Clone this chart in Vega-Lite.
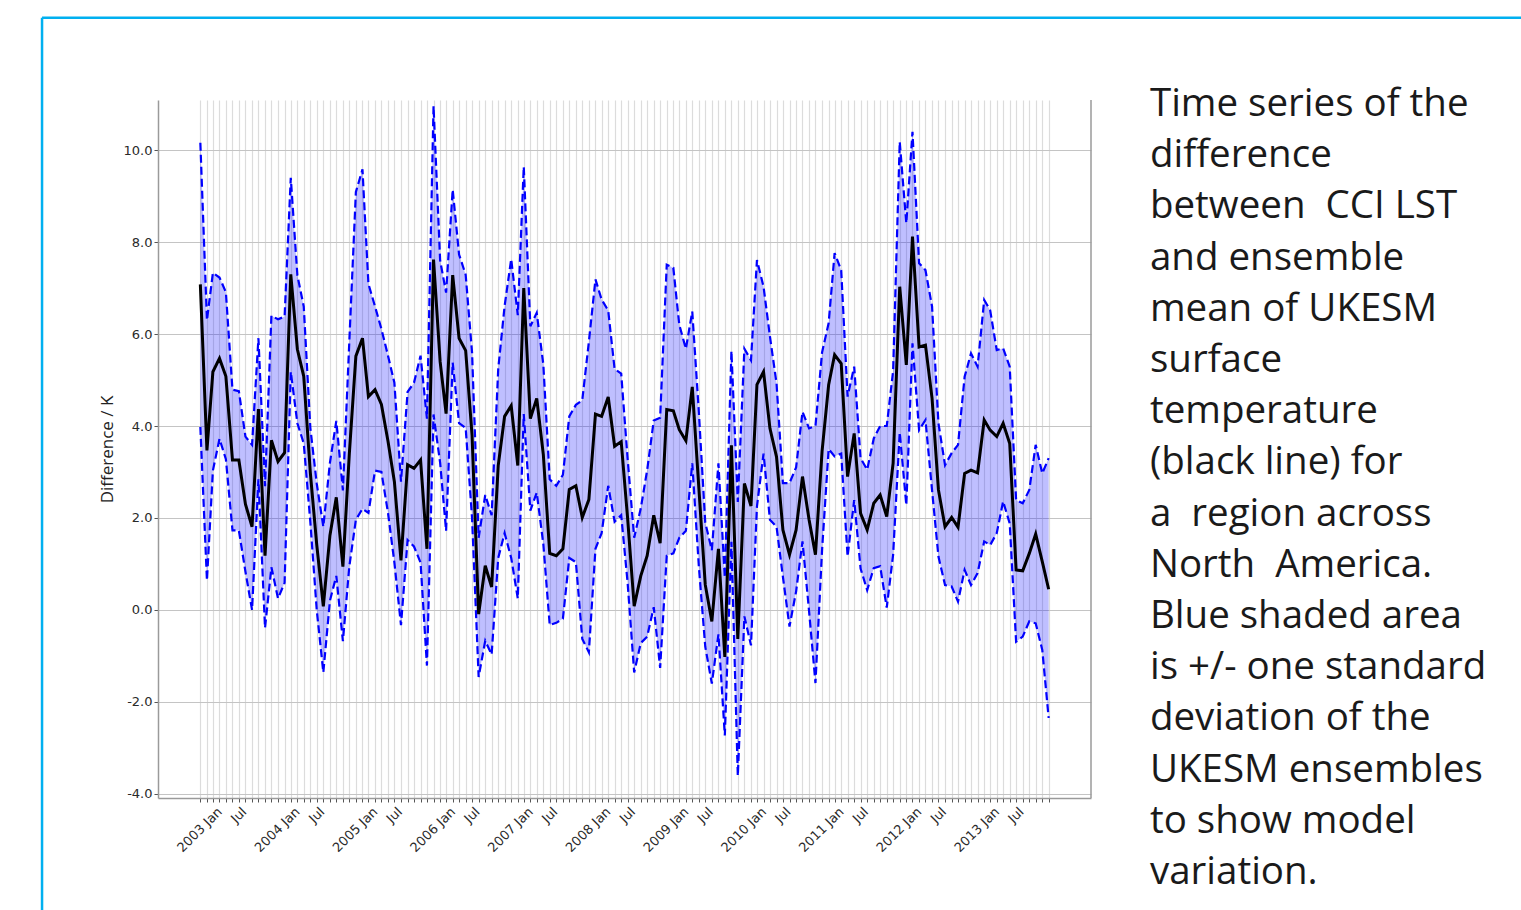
{
  "$schema": "https://vega.github.io/schema/vega-lite/v6.json",
  "width": 933,
  "height": 698,
  "autosize": {"type": "none"},
  "padding": {"left": 158, "top": 100, "right": 430, "bottom": 112},
  "background": "white",
  "config": {
    "view": {"stroke": null},
    "axis": {
      "domainColor": "#9a9a9a",
      "domainWidth": 1.5,
      "tickColor": "#555555",
      "tickSize": 4,
      "tickWidth": 1,
      "labelFont": "DejaVu Sans",
      "labelFontSize": 13,
      "labelColor": "#2a2a2a"
    }
  },
  "data": {
    "values": [
      {"date": "2003-01-01", "mean": 7.08, "upper": 10.16, "lower": 3.98},
      {"date": "2003-02-01", "mean": 3.47, "upper": 6.30, "lower": 0.64},
      {"date": "2003-03-01", "mean": 5.18, "upper": 7.33, "lower": 3.03},
      {"date": "2003-04-01", "mean": 5.47, "upper": 7.23, "lower": 3.72},
      {"date": "2003-05-01", "mean": 5.08, "upper": 6.91, "lower": 3.28},
      {"date": "2003-06-01", "mean": 3.26, "upper": 4.79, "lower": 1.73},
      {"date": "2003-07-01", "mean": 3.26, "upper": 4.76, "lower": 1.73},
      {"date": "2003-08-01", "mean": 2.30, "upper": 3.77, "lower": 0.83},
      {"date": "2003-09-01", "mean": 1.81, "upper": 3.59, "lower": 0.00},
      {"date": "2003-10-01", "mean": 4.37, "upper": 5.91, "lower": 2.84},
      {"date": "2003-11-01", "mean": 1.18, "upper": 2.69, "lower": -0.39},
      {"date": "2003-12-01", "mean": 3.69, "upper": 6.40, "lower": 0.93},
      {"date": "2004-01-01", "mean": 3.23, "upper": 6.32, "lower": 0.25},
      {"date": "2004-02-01", "mean": 3.42, "upper": 6.38, "lower": 0.59},
      {"date": "2004-03-01", "mean": 7.30, "upper": 9.40, "lower": 5.18},
      {"date": "2004-04-01", "mean": 5.67, "upper": 7.28, "lower": 4.06},
      {"date": "2004-05-01", "mean": 5.08, "upper": 6.60, "lower": 3.62},
      {"date": "2004-06-01", "mean": 2.98, "upper": 3.96, "lower": 1.91},
      {"date": "2004-07-01", "mean": 1.42, "upper": 2.75, "lower": 0.00},
      {"date": "2004-08-01", "mean": 0.08, "upper": 1.81, "lower": -1.36},
      {"date": "2004-09-01", "mean": 1.62, "upper": 3.20, "lower": 0.20},
      {"date": "2004-10-01", "mean": 2.45, "upper": 4.11, "lower": 0.74},
      {"date": "2004-11-01", "mean": 0.94, "upper": 2.60, "lower": -0.68},
      {"date": "2004-12-01", "mean": 3.38, "upper": 5.82, "lower": 0.94},
      {"date": "2005-01-01", "mean": 5.52, "upper": 9.09, "lower": 1.96},
      {"date": "2005-02-01", "mean": 5.91, "upper": 9.58, "lower": 2.20},
      {"date": "2005-03-01", "mean": 4.64, "upper": 7.09, "lower": 2.11},
      {"date": "2005-04-01", "mean": 4.79, "upper": 6.60, "lower": 3.03},
      {"date": "2005-05-01", "mean": 4.47, "upper": 6.11, "lower": 3.00},
      {"date": "2005-06-01", "mean": 3.67, "upper": 5.53, "lower": 2.11},
      {"date": "2005-07-01", "mean": 2.79, "upper": 4.94, "lower": 1.03},
      {"date": "2005-08-01", "mean": 1.08, "upper": 2.79, "lower": -0.33},
      {"date": "2005-09-01", "mean": 3.16, "upper": 4.74, "lower": 1.52},
      {"date": "2005-10-01", "mean": 3.08, "upper": 4.94, "lower": 1.38},
      {"date": "2005-11-01", "mean": 3.26, "upper": 5.53, "lower": 1.03},
      {"date": "2005-12-01", "mean": 1.33, "upper": 4.16, "lower": -1.21},
      {"date": "2006-01-01", "mean": 7.62, "upper": 10.96, "lower": 4.25},
      {"date": "2006-02-01", "mean": 5.40, "upper": 7.60, "lower": 3.20},
      {"date": "2006-03-01", "mean": 4.27, "upper": 6.90, "lower": 1.72},
      {"date": "2006-04-01", "mean": 7.28, "upper": 9.14, "lower": 5.38},
      {"date": "2006-05-01", "mean": 5.91, "upper": 7.73, "lower": 4.06},
      {"date": "2006-06-01", "mean": 5.64, "upper": 7.29, "lower": 3.96},
      {"date": "2006-07-01", "mean": 3.80, "upper": 5.60, "lower": 2.00},
      {"date": "2006-08-01", "mean": -0.09, "upper": 1.57, "lower": -1.46},
      {"date": "2006-09-01", "mean": 0.96, "upper": 2.50, "lower": -0.67},
      {"date": "2006-10-01", "mean": 0.50, "upper": 2.06, "lower": -0.97},
      {"date": "2006-11-01", "mean": 3.14, "upper": 5.24, "lower": 1.13},
      {"date": "2006-12-01", "mean": 4.21, "upper": 6.61, "lower": 1.67},
      {"date": "2007-01-01", "mean": 4.44, "upper": 7.63, "lower": 1.13},
      {"date": "2007-02-01", "mean": 3.14, "upper": 6.41, "lower": 0.25},
      {"date": "2007-03-01", "mean": 7.00, "upper": 9.64, "lower": 4.26},
      {"date": "2007-04-01", "mean": 4.16, "upper": 6.17, "lower": 2.16},
      {"date": "2007-05-01", "mean": 4.60, "upper": 6.46, "lower": 2.55},
      {"date": "2007-06-01", "mean": 3.38, "upper": 5.34, "lower": 1.43},
      {"date": "2007-07-01", "mean": 1.23, "upper": 2.84, "lower": -0.33},
      {"date": "2007-08-01", "mean": 1.18, "upper": 2.70, "lower": -0.28},
      {"date": "2007-09-01", "mean": 1.33, "upper": 2.94, "lower": -0.19},
      {"date": "2007-10-01", "mean": 2.62, "upper": 4.21, "lower": 1.13},
      {"date": "2007-11-01", "mean": 2.70, "upper": 4.46, "lower": 1.04},
      {"date": "2007-12-01", "mean": 2.01, "upper": 4.56, "lower": -0.63},
      {"date": "2008-01-01", "mean": 2.40, "upper": 5.83, "lower": -0.92},
      {"date": "2008-02-01", "mean": 4.26, "upper": 7.19, "lower": 1.33},
      {"date": "2008-03-01", "mean": 4.21, "upper": 6.75, "lower": 1.67},
      {"date": "2008-04-01", "mean": 4.63, "upper": 6.51, "lower": 2.70},
      {"date": "2008-05-01", "mean": 3.56, "upper": 5.24, "lower": 1.92},
      {"date": "2008-06-01", "mean": 3.66, "upper": 5.14, "lower": 2.06},
      {"date": "2008-07-01", "mean": 2.00, "upper": 3.30, "lower": 0.60},
      {"date": "2008-08-01", "mean": 0.08, "upper": 1.57, "lower": -1.36},
      {"date": "2008-09-01", "mean": 0.74, "upper": 2.21, "lower": -0.72},
      {"date": "2008-10-01", "mean": 1.18, "upper": 3.04, "lower": -0.58},
      {"date": "2008-11-01", "mean": 2.06, "upper": 4.12, "lower": 0.06},
      {"date": "2008-12-01", "mean": 1.45, "upper": 4.18, "lower": -1.26},
      {"date": "2009-01-01", "mean": 4.36, "upper": 7.51, "lower": 1.18},
      {"date": "2009-02-01", "mean": 4.33, "upper": 7.44, "lower": 1.23},
      {"date": "2009-03-01", "mean": 3.92, "upper": 6.20, "lower": 1.57},
      {"date": "2009-04-01", "mean": 3.68, "upper": 5.68, "lower": 1.72},
      {"date": "2009-05-01", "mean": 4.85, "upper": 6.49, "lower": 3.19},
      {"date": "2009-06-01", "mean": 2.65, "upper": 4.30, "lower": 0.94},
      {"date": "2009-07-01", "mean": 0.55, "upper": 1.90, "lower": -0.80},
      {"date": "2009-08-01", "mean": -0.25, "upper": 1.30, "lower": -1.60},
      {"date": "2009-09-01", "mean": 1.33, "upper": 3.19, "lower": -0.53},
      {"date": "2009-10-01", "mean": -1.02, "upper": 0.70, "lower": -2.73},
      {"date": "2009-11-01", "mean": 3.58, "upper": 5.63, "lower": 1.48},
      {"date": "2009-12-01", "mean": -0.63, "upper": 2.35, "lower": -3.61},
      {"date": "2010-01-01", "mean": 2.75, "upper": 5.68, "lower": -0.14},
      {"date": "2010-02-01", "mean": 2.26, "upper": 5.43, "lower": -0.77},
      {"date": "2010-03-01", "mean": 4.90, "upper": 7.61, "lower": 2.25},
      {"date": "2010-04-01", "mean": 5.18, "upper": 7.03, "lower": 3.40},
      {"date": "2010-05-01", "mean": 3.95, "upper": 5.95, "lower": 1.96},
      {"date": "2010-06-01", "mean": 3.33, "upper": 4.93, "lower": 1.81},
      {"date": "2010-07-01", "mean": 1.74, "upper": 2.76, "lower": 0.72},
      {"date": "2010-08-01", "mean": 1.20, "upper": 2.76, "lower": -0.36},
      {"date": "2010-09-01", "mean": 1.74, "upper": 3.10, "lower": 0.40},
      {"date": "2010-10-01", "mean": 2.90, "upper": 4.31, "lower": 1.49},
      {"date": "2010-11-01", "mean": 1.96, "upper": 3.95, "lower": -0.03},
      {"date": "2010-12-01", "mean": 1.20, "upper": 4.00, "lower": -1.59},
      {"date": "2011-01-01", "mean": 3.45, "upper": 5.60, "lower": 1.30},
      {"date": "2011-02-01", "mean": 4.90, "upper": 6.24, "lower": 3.50},
      {"date": "2011-03-01", "mean": 5.55, "upper": 7.76, "lower": 3.34},
      {"date": "2011-04-01", "mean": 5.36, "upper": 7.39, "lower": 3.40},
      {"date": "2011-05-01", "mean": 2.90, "upper": 4.64, "lower": 1.16},
      {"date": "2011-06-01", "mean": 3.84, "upper": 5.29, "lower": 2.39},
      {"date": "2011-07-01", "mean": 2.10, "upper": 3.30, "lower": 0.90},
      {"date": "2011-08-01", "mean": 1.74, "upper": 3.05, "lower": 0.43},
      {"date": "2011-09-01", "mean": 2.32, "upper": 3.73, "lower": 0.91},
      {"date": "2011-10-01", "mean": 2.50, "upper": 4.00, "lower": 0.95},
      {"date": "2011-11-01", "mean": 2.03, "upper": 4.00, "lower": 0.05},
      {"date": "2011-12-01", "mean": 3.19, "upper": 5.20, "lower": 1.20},
      {"date": "2012-01-01", "mean": 7.03, "upper": 10.18, "lower": 3.86},
      {"date": "2012-02-01", "mean": 5.33, "upper": 8.41, "lower": 2.28},
      {"date": "2012-03-01", "mean": 8.12, "upper": 10.40, "lower": 5.80},
      {"date": "2012-04-01", "mean": 5.72, "upper": 7.54, "lower": 3.91},
      {"date": "2012-05-01", "mean": 5.76, "upper": 7.39, "lower": 4.13},
      {"date": "2012-06-01", "mean": 4.60, "upper": 6.60, "lower": 2.60},
      {"date": "2012-07-01", "mean": 2.61, "upper": 4.06, "lower": 1.16},
      {"date": "2012-08-01", "mean": 1.81, "upper": 3.15, "lower": 0.54},
      {"date": "2012-09-01", "mean": 2.01, "upper": 3.41, "lower": 0.51},
      {"date": "2012-10-01", "mean": 1.80, "upper": 3.59, "lower": 0.18},
      {"date": "2012-11-01", "mean": 2.97, "upper": 5.07, "lower": 0.87},
      {"date": "2012-12-01", "mean": 3.04, "upper": 5.58, "lower": 0.54},
      {"date": "2013-01-01", "mean": 2.98, "upper": 5.29, "lower": 0.80},
      {"date": "2013-02-01", "mean": 4.13, "upper": 6.74, "lower": 1.49},
      {"date": "2013-03-01", "mean": 3.91, "upper": 6.52, "lower": 1.41},
      {"date": "2013-04-01", "mean": 3.77, "upper": 5.65, "lower": 1.67},
      {"date": "2013-05-01", "mean": 4.06, "upper": 5.69, "lower": 2.36},
      {"date": "2013-06-01", "mean": 3.62, "upper": 5.29, "lower": 1.88},
      {"date": "2013-07-01", "mean": 0.87, "upper": 2.39, "lower": -0.69},
      {"date": "2013-08-01", "mean": 0.85, "upper": 2.32, "lower": -0.58},
      {"date": "2013-09-01", "mean": 1.23, "upper": 2.61, "lower": -0.25},
      {"date": "2013-10-01", "mean": 1.65, "upper": 3.59, "lower": -0.29},
      {"date": "2013-11-01", "mean": 1.05, "upper": 2.97, "lower": -0.87},
      {"date": "2013-12-01", "mean": 0.45, "upper": 3.30, "lower": -2.35}
    ]
  },
  "encoding": {
    "x": {
      "field": "date",
      "type": "temporal",
      "title": null,
      "scale": {
        "type": "utc",
        "domain": [
          {"year": 2002, "month": 6, "date": 16, "utc": true},
          {"year": 2014, "month": 6, "date": 18, "utc": true}
        ]
      },
      "axis": {
        "values": [
          {"year":2003,"month":1,"date":1,"utc":true},{"year":2003,"month":2,"date":1,"utc":true},{"year":2003,"month":3,"date":1,"utc":true},{"year":2003,"month":4,"date":1,"utc":true},{"year":2003,"month":5,"date":1,"utc":true},{"year":2003,"month":6,"date":1,"utc":true},{"year":2003,"month":7,"date":1,"utc":true},{"year":2003,"month":8,"date":1,"utc":true},{"year":2003,"month":9,"date":1,"utc":true},{"year":2003,"month":10,"date":1,"utc":true},{"year":2003,"month":11,"date":1,"utc":true},{"year":2003,"month":12,"date":1,"utc":true},
          {"year":2004,"month":1,"date":1,"utc":true},{"year":2004,"month":2,"date":1,"utc":true},{"year":2004,"month":3,"date":1,"utc":true},{"year":2004,"month":4,"date":1,"utc":true},{"year":2004,"month":5,"date":1,"utc":true},{"year":2004,"month":6,"date":1,"utc":true},{"year":2004,"month":7,"date":1,"utc":true},{"year":2004,"month":8,"date":1,"utc":true},{"year":2004,"month":9,"date":1,"utc":true},{"year":2004,"month":10,"date":1,"utc":true},{"year":2004,"month":11,"date":1,"utc":true},{"year":2004,"month":12,"date":1,"utc":true},
          {"year":2005,"month":1,"date":1,"utc":true},{"year":2005,"month":2,"date":1,"utc":true},{"year":2005,"month":3,"date":1,"utc":true},{"year":2005,"month":4,"date":1,"utc":true},{"year":2005,"month":5,"date":1,"utc":true},{"year":2005,"month":6,"date":1,"utc":true},{"year":2005,"month":7,"date":1,"utc":true},{"year":2005,"month":8,"date":1,"utc":true},{"year":2005,"month":9,"date":1,"utc":true},{"year":2005,"month":10,"date":1,"utc":true},{"year":2005,"month":11,"date":1,"utc":true},{"year":2005,"month":12,"date":1,"utc":true},
          {"year":2006,"month":1,"date":1,"utc":true},{"year":2006,"month":2,"date":1,"utc":true},{"year":2006,"month":3,"date":1,"utc":true},{"year":2006,"month":4,"date":1,"utc":true},{"year":2006,"month":5,"date":1,"utc":true},{"year":2006,"month":6,"date":1,"utc":true},{"year":2006,"month":7,"date":1,"utc":true},{"year":2006,"month":8,"date":1,"utc":true},{"year":2006,"month":9,"date":1,"utc":true},{"year":2006,"month":10,"date":1,"utc":true},{"year":2006,"month":11,"date":1,"utc":true},{"year":2006,"month":12,"date":1,"utc":true},
          {"year":2007,"month":1,"date":1,"utc":true},{"year":2007,"month":2,"date":1,"utc":true},{"year":2007,"month":3,"date":1,"utc":true},{"year":2007,"month":4,"date":1,"utc":true},{"year":2007,"month":5,"date":1,"utc":true},{"year":2007,"month":6,"date":1,"utc":true},{"year":2007,"month":7,"date":1,"utc":true},{"year":2007,"month":8,"date":1,"utc":true},{"year":2007,"month":9,"date":1,"utc":true},{"year":2007,"month":10,"date":1,"utc":true},{"year":2007,"month":11,"date":1,"utc":true},{"year":2007,"month":12,"date":1,"utc":true},
          {"year":2008,"month":1,"date":1,"utc":true},{"year":2008,"month":2,"date":1,"utc":true},{"year":2008,"month":3,"date":1,"utc":true},{"year":2008,"month":4,"date":1,"utc":true},{"year":2008,"month":5,"date":1,"utc":true},{"year":2008,"month":6,"date":1,"utc":true},{"year":2008,"month":7,"date":1,"utc":true},{"year":2008,"month":8,"date":1,"utc":true},{"year":2008,"month":9,"date":1,"utc":true},{"year":2008,"month":10,"date":1,"utc":true},{"year":2008,"month":11,"date":1,"utc":true},{"year":2008,"month":12,"date":1,"utc":true},
          {"year":2009,"month":1,"date":1,"utc":true},{"year":2009,"month":2,"date":1,"utc":true},{"year":2009,"month":3,"date":1,"utc":true},{"year":2009,"month":4,"date":1,"utc":true},{"year":2009,"month":5,"date":1,"utc":true},{"year":2009,"month":6,"date":1,"utc":true},{"year":2009,"month":7,"date":1,"utc":true},{"year":2009,"month":8,"date":1,"utc":true},{"year":2009,"month":9,"date":1,"utc":true},{"year":2009,"month":10,"date":1,"utc":true},{"year":2009,"month":11,"date":1,"utc":true},{"year":2009,"month":12,"date":1,"utc":true},
          {"year":2010,"month":1,"date":1,"utc":true},{"year":2010,"month":2,"date":1,"utc":true},{"year":2010,"month":3,"date":1,"utc":true},{"year":2010,"month":4,"date":1,"utc":true},{"year":2010,"month":5,"date":1,"utc":true},{"year":2010,"month":6,"date":1,"utc":true},{"year":2010,"month":7,"date":1,"utc":true},{"year":2010,"month":8,"date":1,"utc":true},{"year":2010,"month":9,"date":1,"utc":true},{"year":2010,"month":10,"date":1,"utc":true},{"year":2010,"month":11,"date":1,"utc":true},{"year":2010,"month":12,"date":1,"utc":true},
          {"year":2011,"month":1,"date":1,"utc":true},{"year":2011,"month":2,"date":1,"utc":true},{"year":2011,"month":3,"date":1,"utc":true},{"year":2011,"month":4,"date":1,"utc":true},{"year":2011,"month":5,"date":1,"utc":true},{"year":2011,"month":6,"date":1,"utc":true},{"year":2011,"month":7,"date":1,"utc":true},{"year":2011,"month":8,"date":1,"utc":true},{"year":2011,"month":9,"date":1,"utc":true},{"year":2011,"month":10,"date":1,"utc":true},{"year":2011,"month":11,"date":1,"utc":true},{"year":2011,"month":12,"date":1,"utc":true},
          {"year":2012,"month":1,"date":1,"utc":true},{"year":2012,"month":2,"date":1,"utc":true},{"year":2012,"month":3,"date":1,"utc":true},{"year":2012,"month":4,"date":1,"utc":true},{"year":2012,"month":5,"date":1,"utc":true},{"year":2012,"month":6,"date":1,"utc":true},{"year":2012,"month":7,"date":1,"utc":true},{"year":2012,"month":8,"date":1,"utc":true},{"year":2012,"month":9,"date":1,"utc":true},{"year":2012,"month":10,"date":1,"utc":true},{"year":2012,"month":11,"date":1,"utc":true},{"year":2012,"month":12,"date":1,"utc":true},
          {"year":2013,"month":1,"date":1,"utc":true},{"year":2013,"month":2,"date":1,"utc":true},{"year":2013,"month":3,"date":1,"utc":true},{"year":2013,"month":4,"date":1,"utc":true},{"year":2013,"month":5,"date":1,"utc":true},{"year":2013,"month":6,"date":1,"utc":true},{"year":2013,"month":7,"date":1,"utc":true},{"year":2013,"month":8,"date":1,"utc":true},{"year":2013,"month":9,"date":1,"utc":true},{"year":2013,"month":10,"date":1,"utc":true},{"year":2013,"month":11,"date":1,"utc":true},{"year":2013,"month":12,"date":1,"utc":true}
        ],
        "labelExpr": "utcmonth(datum.value) == 0 ? utcFormat(datum.value, '%Y %b') : (utcmonth(datum.value) == 6 ? 'Jul' : '')",
        "labelAngle": -45,
        "labelAlign": "right",
        "labelBaseline": "top",
        "labelOffset": {"condition": {"test": "utcmonth(datum.value) == 0", "value": 15}, "value": 1},
        "labelPadding": 3,
        "labelOverlap": false,
        "labelBound": false,
        "labelFlush": false,
        "grid": true,
        "gridColor": "#dcdcdc",
        "gridWidth": 1.2
      }
    }
  },
  "layer": [
    {
      "mark": {"type": "area", "fill": "#0000ff", "fillOpacity": 0.25},
      "encoding": {
        "y": {
          "field": "lower",
          "type": "quantitative",
          "scale": {"domain": [-4.09, 11.09], "nice": false, "zero": false},
          "axis": {
            "values": [-4, -2, 0, 2, 4, 6, 8, 10],
            "labelExpr": "replace(format(datum.value, '.1f'), '\u2212', '-')",
            "grid": true,
            "gridColor": "#c4c4c4",
            "gridWidth": 1,
            "title": "Difference / K",
            "titleFont": "Open Sans",
            "titleFontSize": 17,
            "titleFontWeight": "normal",
            "titleColor": "#222222",
            "titlePadding": 7
          }
        },
        "y2": {"field": "upper"}
      }
    },
    {
      "mark": {"type": "line", "color": "#0000ff", "strokeWidth": 2.2, "strokeDash": [8, 4]},
      "encoding": {"y": {"field": "upper", "type": "quantitative"}}
    },
    {
      "mark": {"type": "line", "color": "#0000ff", "strokeWidth": 2.2, "strokeDash": [8, 4]},
      "encoding": {"y": {"field": "lower", "type": "quantitative"}}
    },
    {
      "mark": {"type": "line", "color": "#000000", "strokeWidth": 3},
      "encoding": {"y": {"field": "mean", "type": "quantitative"}}
    },
    {
      "transform": [{"filter": "datum.upper == 10.16"}],
      "mark": {"type": "rule", "color": "#9a9a9a", "strokeWidth": 1.5},
      "encoding": {
        "x": {"datum": {"expr": "utc(2014, 5, 18)"}, "type": "temporal"}
      }
    },
    {
      "transform": [{"filter": "datum.upper == 10.16"}],
      "mark": {"type": "rule", "color": "#00b0f0", "strokeWidth": 2.5, "clip": false},
      "encoding": {
        "x": {"datum": {"expr": "utc(2000, 11, 18)"}, "type": "temporal"},
        "x2": {"datum": {"expr": "utc(2020, 5, 1)"}},
        "y": {"datum": 12.88, "type": "quantitative"}
      }
    },
    {
      "transform": [{"filter": "datum.upper == 10.16"}],
      "mark": {"type": "rule", "color": "#00b0f0", "strokeWidth": 2.5, "clip": false},
      "encoding": {
        "x": {"datum": {"expr": "utc(2000, 11, 18)"}, "type": "temporal"},
        "y": {"datum": 12.88, "type": "quantitative"},
        "y2": {"datum": -8}
      }
    },
    {
      "transform": [{"filter": "datum.upper == 10.16"}],
      "mark": {
        "type": "text",
        "align": "left",
        "baseline": "alphabetic",
        "font": "Open Sans",
        "fontSize": 38.5,
        "lineHeight": 51.2,
        "lineBreak": "\n",
        "color": "#1a1a1a",
        "clip": false
      },
      "encoding": {
        "x": {"datum": {"expr": "utc(2015, 2, 22)"}, "type": "temporal"},
        "y": {"datum": 10.74, "type": "quantitative"},
        "text": {"value": "Time series of the\ndifference\nbetween\u00a0 CCI LST\nand ensemble\nmean of UKESM\nsurface\ntemperature\n(black line) for\na\u00a0 region across\nNorth\u00a0 America.\nBlue shaded area\nis +/- one standard\ndeviation of the\nUKESM ensembles\nto show model\nvariation."}
      }
    }
  ]
}
